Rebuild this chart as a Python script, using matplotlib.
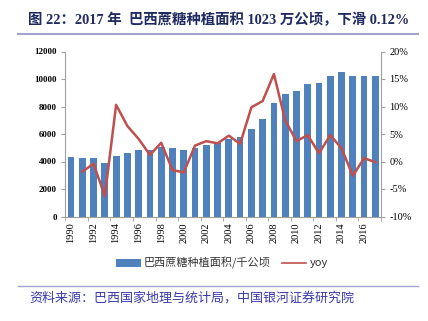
import matplotlib
matplotlib.use("Agg")
import matplotlib.pyplot as plt
from matplotlib.patches import Patch
from matplotlib.lines import Line2D
import numpy as np

plt.rcParams['font.family'] = ['Liberation Serif', 'Noto Sans CJK SC', 'DejaVu Sans']

years = list(range(1990, 2018))
area = [4330, 4230, 4230, 3910, 4375, 4595, 4810, 4860, 5050, 4960,
        4860, 5010, 5225, 5320, 5640, 5800, 6360, 7090, 8230, 8880,
        9150, 9660, 9730, 10240, 10490, 10200, 10242, 10230]
yoy = [None, -1.85, -0.4, -6.3, 10.3, 6.45, 4.1, 1.2, 3.4, -1.55,
       -2.0, 2.9, 3.7, 3.3, 4.7, 3.2, 9.85, 11.0, 15.9, 7.5,
       3.7, 4.8, 1.5, 4.8, 2.4, -2.6, 0.6, -0.12]
bar_label = "巴西蔗糖种植面积/千公顷"
line_label = "yoy"
title = "图 22：2017 年  巴西蔗糖种植面积 1023 万公顷，下滑 0.12%"
source = "资料来源：巴西国家地理与统计局，中国银河证券研究院"

W, H = 428, 321
fig = plt.figure(figsize=(W / 100, H / 100), dpi=100)
ax = fig.add_axes([65.4 / W, 1 - 216.5 / H, (381 - 65.4) / W, (216.5 - 51.5) / H])

x = np.arange(len(years))
bar_color = '#4F81BD'
line_color = '#C0504D'
ax.bar(x, area, width=0.6, color=bar_color, zorder=2)
ax.set_xlim(-0.5, len(years) - 0.5)
ax.set_ylim(0, 12000)
ax.set_yticks(range(0, 12001, 2000))
ax.set_yticklabels([str(v) for v in range(0, 12001, 2000)], fontsize=6.5, fontweight='bold')

ax.set_xticks(x[::2])
ax.set_xticklabels([str(y) for y in years[::2]], rotation=90, fontsize=7.5)
ax.set_xticks(np.arange(-0.5, len(years), 2), minor=True)
ax.tick_params(axis='x', which='major', length=0, pad=4)
ax.tick_params(axis='x', which='minor', length=3, color='#A0A0A0')
ax.tick_params(axis='y', length=3, color='#A0A0A0', pad=3)

for s in ['top', 'right']:
    ax.spines[s].set_visible(False)
for s in ['left', 'bottom']:
    ax.spines[s].set_color('#A0A0A0')
    ax.spines[s].set_linewidth(0.8)

ax2 = ax.twinx()
yx = [i for i, v in enumerate(yoy) if v is not None]
yv = [v for v in yoy if v is not None]
ax2.plot(yx, yv, color=line_color, linewidth=1.8, zorder=3)
ax2.set_ylim(-10, 20)
ax2.set_yticks(range(-10, 21, 5))
ax2.set_yticklabels([f"{v}%" for v in range(-10, 21, 5)], fontsize=7.5)
ax2.tick_params(axis='y', length=3, color='#A0A0A0', pad=3)
for s in ['top', 'left', 'bottom']:
    ax2.spines[s].set_visible(False)
ax2.spines['right'].set_color('#A0A0A0')
ax2.spines['right'].set_linewidth(0.8)

handles = [Patch(facecolor=bar_color, edgecolor='none', label=bar_label),
           Line2D([0], [0], color=line_color, linewidth=1.2, label=line_label)]
leg = fig.legend(handles=handles, loc='center', bbox_to_anchor=(222 / W, 1 - 263 / H),
                 ncol=2, frameon=False, handlelength=2.2, handleheight=0.7,
                 columnspacing=1.0, handletextpad=0.3,
                 prop={'family': ['Noto Sans CJK SC', 'DejaVu Sans'], 'size': 8})
for t in leg.get_texts():
    t.set_color('#333333')

fig.text(28 / W, 1 - 20 / H, title, fontsize=10.4, fontweight='bold', color='#1F2A60',
         va='center', ha='left', family=['Liberation Serif', 'Noto Sans CJK SC'])
fig.add_artist(Line2D([18 / W, 418 / W], [1 - 34 / H, 1 - 34 / H], color='#A3A3D0', linewidth=1.5))
fig.add_artist(Line2D([18 / W, 418 / W], [1 - 285.5 / H, 1 - 285.5 / H], color='#A3A3D0', linewidth=1.0))
fig.text(29 / W, 1 - 298 / H, source, fontsize=9.4, color='#3A3AB0', style='italic',
         va='center', ha='left', family=['Noto Sans CJK SC', 'DejaVu Sans'])

fig.savefig('out.png', dpi=100)
